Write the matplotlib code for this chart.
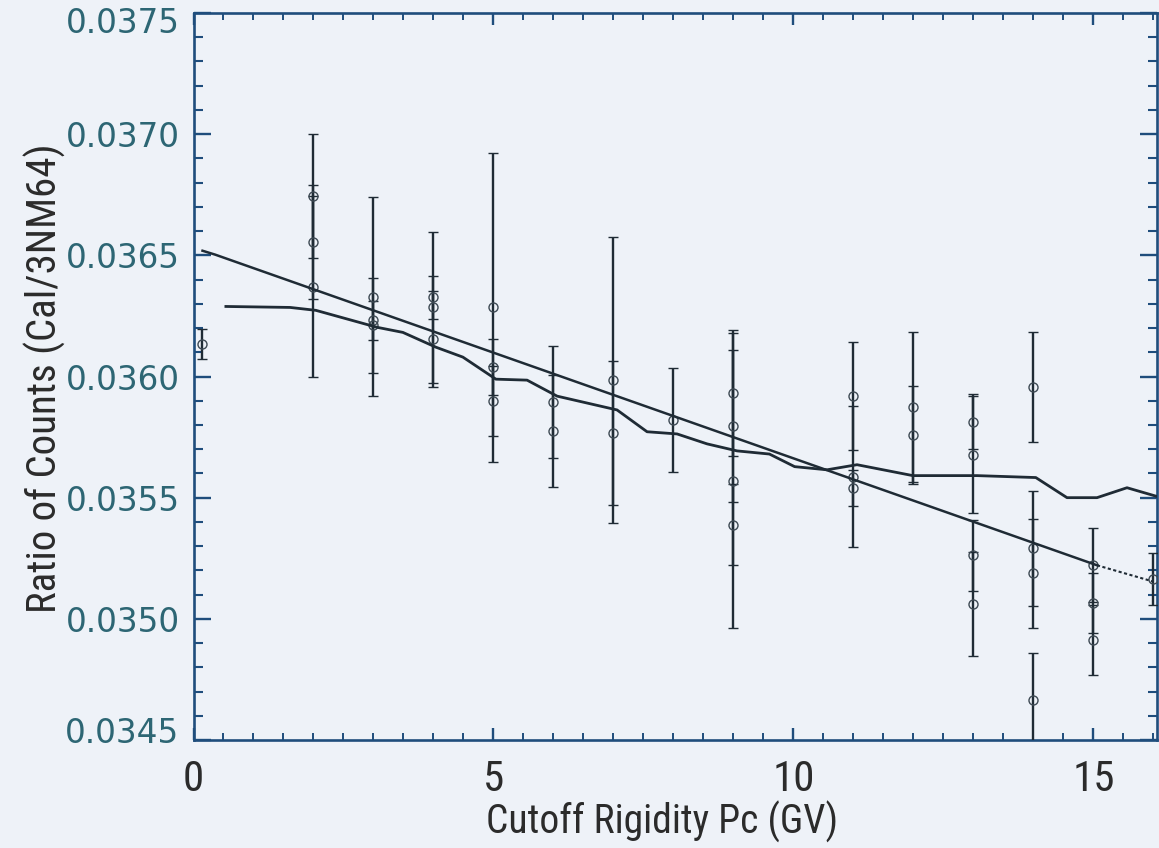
import matplotlib
matplotlib.use("Agg")
import matplotlib.pyplot as plt
import matplotlib.transforms as mtransforms
from matplotlib import font_manager
from matplotlib.ticker import MultipleLocator, FixedLocator, FormatStrFormatter

# Binned count ratios: cutoff rigidity (GV), ratio, and 1-sigma uncertainty
rigidity = [0.15,
            2, 2, 2,
            3, 3, 3,
            4, 4, 4,
            5, 5, 5,
            6, 6,
            7, 7,
            8,
            9, 9, 9, 9,
            11, 11, 11,
            12, 12,
            13, 13, 13, 13,
            14, 14, 14, 14,
            15, 15, 15,
            16]
ratio = [0.036133,
         0.036745, 0.036556, 0.036371,
         0.036330, 0.036232, 0.036211,
         0.036326, 0.036285, 0.036154,
         0.036285, 0.036039, 0.035899,
         0.035895, 0.035776,
         0.035985, 0.035767,
         0.035821,
         0.035932, 0.035796, 0.035570, 0.035389,
         0.035919, 0.035587, 0.035541,
         0.035874, 0.035759,
         0.035813, 0.035677, 0.035262, 0.035061,
         0.035956, 0.035291, 0.035188, 0.034666,
         0.035221, 0.035065, 0.034913,
         0.035163]
ratio_err = [0.000062,
             0.000257, 0.000236, 0.000372,
             0.000409, 0.000080, 0.000195,
             0.000090, 0.000312, 0.000197,
             0.000637, 0.000117, 0.000144,
             0.000232, 0.000230,
             0.000590, 0.000296,
             0.000214,
             0.000259, 0.000312, 0.000608, 0.000168,
             0.000224, 0.000290, 0.000074,
             0.000310, 0.000203,
             0.000113, 0.000242, 0.000146, 0.000214,
             0.000228, 0.000236, 0.000226, 0.000193,
             0.000152, 0.000123, 0.000144,
             0.000107]

# Running mean of the binned ratios
trend_x = [0.54, 1.61, 2.04, 3.06, 3.49, 4.04, 4.49, 5.04, 5.56, 6.06,
           7.06, 7.56, 8.06, 8.56, 9.06, 9.6, 10.02, 10.56, 11.06, 11.99,
           13.06, 14.04, 14.56, 15.06, 15.56, 16.06]
trend_y = [0.036289, 0.036285, 0.036273, 0.036203, 0.036182, 0.036121,
           0.036080, 0.035989, 0.035985, 0.035919, 0.035862, 0.035772,
           0.035763, 0.035722, 0.035693, 0.035680, 0.035628, 0.035615,
           0.035636, 0.035591, 0.035591, 0.035583, 0.035500, 0.035500,
           0.035541, 0.035505]

# Linear regression line and its extrapolation
fit_x = [0.15, 0.36, 15.06]
fit_y = [0.036519, 0.036503, 0.035221]
ext_x = [15.06, 15.98]
ext_y = [0.035221, 0.035155]

xticks = [0, 5, 10, 15]
yticks = [0.0345, 0.0350, 0.0355, 0.0360, 0.0365, 0.0370, 0.0375]


def pick_narrow_font():
    """Return (family, stretch, size factor) for a condensed sans face."""
    names = {f.name for f in font_manager.fontManager.ttflist}
    for fam in ("Liberation Sans Narrow", "Roboto Condensed",
                "Open Sans Condensed", "DejaVu Sans Condensed"):
        if fam in names:
            return fam, "normal", 1.0
    for f in font_manager.fontManager.ttflist:
        if f.name == "DejaVu Sans" and "Condensed" in f.fname:
            return "DejaVu Sans", "condensed", 0.95
    if "Roboto" in names:
        return "Roboto", "normal", 0.86
    return "DejaVu Sans", "normal", 0.8


narrow_family, narrow_stretch, size_k = pick_narrow_font()

bg = "#eef2f8"
navy = "#1f4d7c"
ink = "#1f2b35"
label_ink = "#2b2b2b"
tick_ink = "#2d6674"

fig = plt.figure(figsize=(11.59, 8.48), dpi=100, facecolor=bg)
W, H = 1159, 848
ax = fig.add_axes([193.5 / W, 1 - 740 / H, (1157 - 193.5) / W, (740 - 13) / H])
ax.set_facecolor(bg)

ax.errorbar(rigidity, ratio, yerr=ratio_err, fmt="o", ms=6.5, mfc="none",
            mec="#3e4a54", mew=1.0, ecolor=ink, elinewidth=1.7,
            capsize=3.8, capthick=1.8, zorder=3)
ax.plot(trend_x, trend_y, color=ink, lw=2.0, zorder=4)
ax.plot(fit_x, fit_y, color=ink, lw=1.8, zorder=4)
ax.plot(ext_x, ext_y, color=ink, lw=1.5, ls=(0, (1.5, 1.2)), zorder=4)

ax.set_xlim(0, 16.06)
ax.set_ylim(0.0345, 0.0375)

ax.xaxis.set_major_locator(FixedLocator(xticks))
ax.xaxis.set_minor_locator(MultipleLocator(0.5))
ax.yaxis.set_major_locator(FixedLocator(yticks))
ax.yaxis.set_minor_locator(MultipleLocator(0.0001))
ax.yaxis.set_major_formatter(FormatStrFormatter("%.4f"))

for s in ax.spines.values():
    s.set_color(navy)
    s.set_linewidth(1.9)

ax.tick_params(axis="both", which="both", direction="in", color=navy,
               top=True, right=True)
ax.tick_params(axis="y", which="major", length=12, width=1.7, pad=10,
               labelsize=23.5, labelcolor=tick_ink)
ax.tick_params(axis="y", which="minor", length=6.5, width=1.5)
ax.tick_params(axis="x", which="major", length=8.5, width=1.7, pad=14,
               labelsize=31 * size_k, labelcolor=label_ink)
ax.tick_params(axis="x", which="minor", length=5, width=1.4)

for lab in ax.get_xticklabels():
    lab.set_family(narrow_family)
    lab.set_stretch(narrow_stretch)
for lab in ax.get_yticklabels():
    lab.set_family("DejaVu Sans")

# keep the end labels inside the frame height
ylabs = ax.get_yticklabels()
ylabs[0].set_transform(ylabs[0].get_transform() +
                       mtransforms.ScaledTranslation(0, 10 / 100, fig.dpi_scale_trans))
ylabs[-1].set_transform(ylabs[-1].get_transform() +
                        mtransforms.ScaledTranslation(0, -7 / 100, fig.dpi_scale_trans))

fig.text(662 / W, 1 - 822 / H, "Cutoff Rigidity Pc (GV)", ha="center",
         va="center", fontsize=28.5 * size_k, color=label_ink,
         family=narrow_family, stretch=narrow_stretch)
fig.text(45 / W, 1 - 378 / H, "Ratio of Counts (Cal/3NM64)", ha="center",
         va="center", rotation=90, fontsize=29.5 * size_k, color=label_ink,
         family=narrow_family, stretch=narrow_stretch)

fig.savefig("out.png", dpi=100, facecolor=bg)
